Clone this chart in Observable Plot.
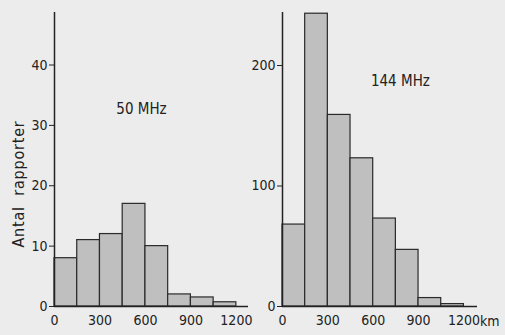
<!DOCTYPE html>
<html><head><meta charset="utf-8">
<script src="https://cdn.jsdelivr.net/npm/d3@7"></script>
<script src="https://cdn.jsdelivr.net/npm/@observablehq/plot@0.6"></script>
<style>
body{margin:0;background:#ececec;width:505px;height:335px;overflow:hidden;position:relative;font-family:"DejaVu Sans Condensed","DejaVu Sans",sans-serif}
#left{position:absolute;left:0;top:0}
#right{position:absolute;left:250px;top:0}
#ylab{position:absolute;left:18px;top:184px;transform:translate(-50%,-50%) rotate(-90deg);font-size:16px;white-space:nowrap;color:#222;letter-spacing:0.8px;word-spacing:5px}
</style></head><body>
<div id="left"></div><div id="right"></div><div id="ylab">Antal rapporter</div>
<script>
const binStarts = [0, 150, 300, 450, 600, 750, 900, 1050];
const binWidth = 150;
const counts50 = [8, 11, 12, 17, 10, 2, 1.5, 0.7];
const counts144 = [68, 243, 159, 123, 73, 47, 7, 2];
const xTicks = [0, 300, 600, 900, 1200];
const yTicks50 = [0, 10, 20, 30, 40];
const yTicks144 = [0, 100, 200];
const titles = ["50 MHz", "144 MHz"];

function hist(counts, o) {
  const data = binStarts.map((x0, i) => ({x1: x0, x2: x0 + binWidth, y: counts[i]}));
  const marks = [
    Plot.rectY(data, {x1: "x1", x2: "x2", y: "y", fill: "#bfbfbf", stroke: "#2a2a2a", strokeWidth: 1.2, inset: 0}),
    Plot.ruleX([0], {stroke: "#222", strokeWidth: 1.5}),
    Plot.ruleY([0], {stroke: "#222", strokeWidth: 1.5}),
    Plot.text([o.title], {x: o.tx, y: o.ty, fontSize: 15, fill: "#222"})
  ];
  if (o.km) marks.push(Plot.text(["km"], {x: 1200, y: 0, dx: 16, dy: 15, textAnchor: "start", fontSize: 14, fill: "#222"}));
  return Plot.plot({
    width: o.width, height: 335,
    marginLeft: o.ml, marginRight: o.mr, marginTop: 12, marginBottom: 29,
    style: {background: "transparent", fontFamily: "'DejaVu Sans Condensed','DejaVu Sans',sans-serif", fontSize: "14px", color: "#222", overflow: "visible"},
    x: {domain: [0, o.xmax], ticks: xTicks, tickFormat: d => String(d), tickSize: 0, tickPadding: 9, label: null},
    y: {domain: [0, o.ymax], ticks: o.yTicks, tickFormat: d => String(d), tickSize: 5, tickPadding: 2, label: null},
    marks
  });
}

document.getElementById("left").append(hist(counts50, {width: 250, ml: 54, mr: 2, xmax: 1280, ymax: 48.7, yTicks: yTicks50, title: titles[0], tx: 574, ty: 32.7}));
document.getElementById("right").append(hist(counts144, {width: 255, ml: 32, mr: 28, xmax: 1290, ymax: 244, yTicks: yTicks144, title: titles[1], tx: 780, ty: 187, km: true}));
</script>
</body></html>
